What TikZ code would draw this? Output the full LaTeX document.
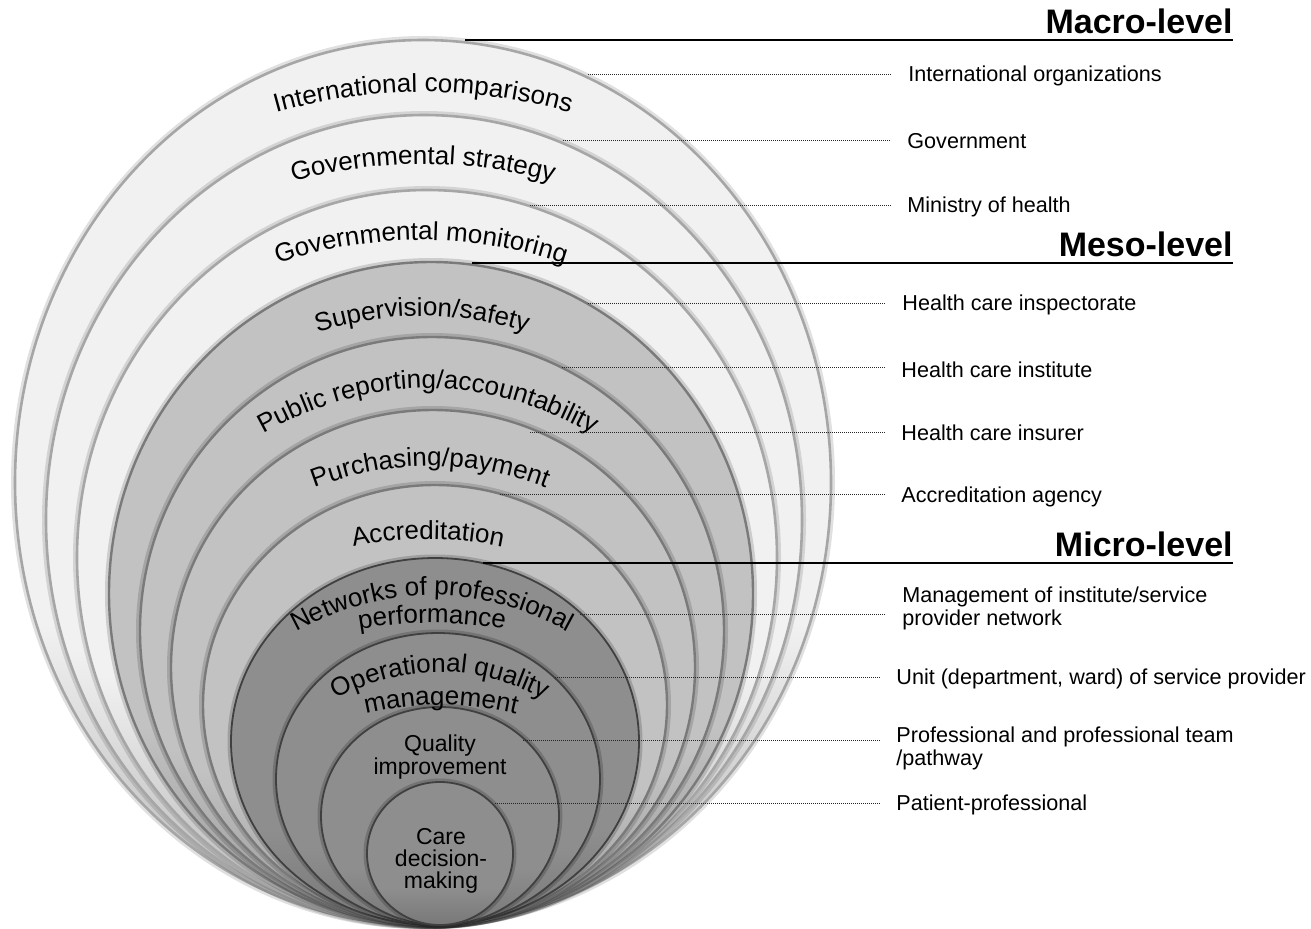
\documentclass[tikz,border=0pt]{standalone}
\usepackage{fontspec}
\setmainfont{Liberation Sans}
\usetikzlibrary{decorations.text}

\definecolor{macrotop}{HTML}{F1F1F1}
\definecolor{macrobot}{HTML}{B4B4B4}
\definecolor{mesotop}{HTML}{C2C2C2}
\definecolor{mesobot}{HTML}{989898}
\definecolor{microtop}{HTML}{8E8E8E}
\definecolor{microbot}{HTML}{787878}

\pgfdeclareverticalshading{macroshade}{100bp}{color(0bp)=(macrobot); color(25bp)=(macrobot); color(42bp)=(macrotop); color(100bp)=(macrotop)}
\pgfdeclareverticalshading{mesoshade}{100bp}{color(0bp)=(mesobot); color(25bp)=(mesobot); color(40bp)=(mesotop); color(100bp)=(mesotop)}
\pgfdeclareverticalshading{microshade}{100bp}{color(0bp)=(microbot); color(25bp)=(microbot); color(38bp)=(microtop); color(100bp)=(microtop)}

\newcommand{\ringfont}{\fontsize{13}{15}\selectfont}

\tikzset{
  macroring/.style={shading=macroshade, draw=black!35, line width=1.3pt,
    preaction={draw=black, opacity=0.12, line width=4pt}},
  mesoring/.style={shading=mesoshade, draw=black!52, line width=1.2pt,
    preaction={draw=black, opacity=0.15, line width=4pt}},
  microring/.style={shading=microshade, draw=black!75, line width=0.9pt,
    preaction={draw=black, opacity=0.18, line width=3.5pt}},
  ringtext/.style={decorate, decoration={text along path, text align=center, text={|\ringfont|#1}}},
  party/.style={anchor=base west, inner xsep=0pt, align=left, font=\fontsize{10.8}{11.5}\selectfont},
  heading/.style={anchor=south east, inner xsep=0pt, inner ysep=3pt, font=\fontsize{17}{20}\selectfont\bfseries},
  leader/.style={black!85, line width=0.5pt, dash pattern=on 0.5pt off 0.5pt, shorten >=8pt},
  levelline/.style={black, line width=1pt}
}

\begin{document}
\begin{tikzpicture}[x=0.5pt,y=-0.5pt]

\useasboundingbox (0,0) rectangle (1311,928);

\path[macroring] (423,482.5) ellipse [x radius=408, y radius=442.5];
\path[macroring] (424,520) ellipse [x radius=378, y radius=405];
\path[macroring] (427,557.5) ellipse [x radius=350, y radius=367.5];
\path[mesoring] (431,593.5) ellipse [x radius=322, y radius=331.5];
\path[mesoring] (432,631) ellipse [x radius=292, y radius=294];
\path[mesoring] (433,667.5) ellipse [x radius=262, y radius=257.5];
\path[mesoring] (435,705) ellipse [x radius=232, y radius=220];
\path[microring] (435,741.5) ellipse [x radius=204, y radius=183.5];
\path[microring] (438,779) ellipse [x radius=162, y radius=146];
\path[microring] (440,816) ellipse [x radius=119, y radius=109];
\path[microring] (440,853.5) ellipse [x radius=73, y radius=71.5];

\path[ringtext={International comparisons}] (203,138) .. controls (349.7,76.7) and (496.3,76.7) .. (643,138);
\path[ringtext={Governmental strategy}] (223,206) .. controls (356.3,150) and (489.7,150) .. (623,206);
\path[ringtext={Governmental monitoring}] (221,286) .. controls (354.3,224.7) and (487.7,224.7) .. (621,286);
\path[ringtext={Supervision/safety}] (252,359) .. controls (365.3,301.7) and (478.7,301.7) .. (592,359);
\path[ringtext={Public reporting/accountability}] (208,470) .. controls (354.7,360.7) and (501.3,360.7) .. (648,470);
\path[ringtext={Purchasing/payment}] (250,519) .. controls (370,448.3) and (490,448.3) .. (610,519);
\path[ringtext={Accreditation}] (278,571) .. controls (378,528.3) and (478,528.3) .. (578,571);
\path[ringtext={Networks of professional}] (262,653) .. controls (375.3,575.7) and (488.7,575.7) .. (602,653);
\path[ringtext={performance}] (312,640) .. controls (392,617.3) and (472,617.3) .. (552,640);
\path[ringtext={Operational quality}] (290,728) .. controls (390,653.3) and (490,653.3) .. (590,728);
\path[ringtext={management}] (331,724) .. controls (404.3,698.7) and (477.7,698.7) .. (551,724);

\node[align=center, font=\fontsize{11.5}{10.5}\selectfont] (qi) at (440,757) {Quality\\improvement};
\node[align=center, font=\fontsize{11.5}{11}\selectfont] (care) at (441,861) {Care\\decision-\\making};

\node[heading] (macro) at (1233,40) {Macro-level};
\node[heading] (meso) at (1233,263) {Meso-level};
\node[heading] (micro) at (1233,563) {Micro-level};

\coordinate (macroL) at (465,40);
\coordinate (mesoL) at (472,263);
\coordinate (microL) at (483,563);

\draw[levelline] (macroL) -- (macro.south east);
\draw[levelline] (mesoL) -- (meso.south east);
\draw[levelline] (microL) -- (micro.south east);

\node[party] (intorg) at (908,81) {International organizations};
\node[party] (gov) at (907,148) {Government};
\node[party] (moh) at (907,212) {Ministry of health};
\node[party] (insp) at (902,310) {Health care inspectorate};
\node[party] (inst) at (901,377) {Health care institute};
\node[party] (insu) at (901,440) {Health care insurer};
\node[party] (accr) at (901,502) {Accreditation agency};
\node[party] (mgmt) at (902,625) {Management of institute/service\\provider network};
\node[party] (unit) at (896,684) {Unit (department, ward) of service provider};
\node[party] (team) at (896,765) {Professional and professional team\\/pathway};
\node[party] (pat) at (896,810) {Patient-professional};

\coordinate (s1) at (588,74);
\coordinate (s2) at (563,140);
\coordinate (s3) at (530,205);
\coordinate (s4) at (588,303);
\coordinate (s5) at (562,367);
\coordinate (s6) at (530,432);
\coordinate (s7) at (500,494);
\coordinate (s8) at (580,614);
\coordinate (s9) at (555,677);
\coordinate (s10) at (523,740);
\coordinate (s11) at (495,803);

\draw[leader] (s1) -- (s1 -| intorg.west);
\draw[leader] (s2) -- (s2 -| gov.west);
\draw[leader] (s3) -- (s3 -| moh.west);
\draw[leader] (s4) -- (s4 -| insp.west);
\draw[leader] (s5) -- (s5 -| inst.west);
\draw[leader] (s6) -- (s6 -| insu.west);
\draw[leader] (s7) -- (s7 -| accr.west);
\draw[leader] (s8) -- (s8 -| mgmt.west);
\draw[leader] (s9) -- (s9 -| unit.west);
\draw[leader] (s10) -- (s10 -| team.west);
\draw[leader] (s11) -- (s11 -| pat.west);

\end{tikzpicture}
\end{document}
